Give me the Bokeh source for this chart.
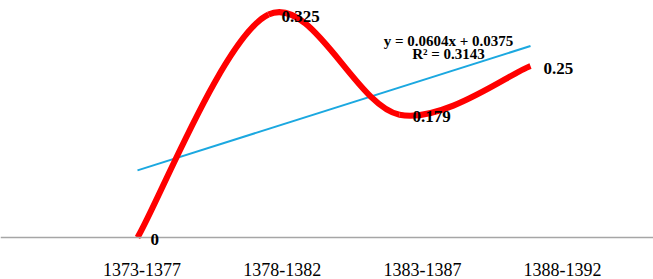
import numpy as np
from bokeh.plotting import figure
from bokeh.models import Range1d, LinearAxis, FixedTicker, ColumnDataSource, Label, LabelSet, Span
from bokeh.embed import file_html
from bokeh.resources import INLINE

categories = ["1373-1377", "1378-1382", "1383-1387", "1388-1392"]
values = [0, 0.325, 0.179, 0.25]
value_labels = ["0", "0.325", "0.179", "0.25"]
trend_lines = ["y = 0.0604x + 0.0375", "R\u00b2 = 0.3143"]

x = np.arange(1, len(values) + 1, dtype=float)
y = np.array(values, dtype=float)

FW, FH = 653, 250
BASE = 237      # baseline pixel row from top
xs_px = 131.0   # px per category on the plotting scale
ys_px = 686.0   # px per unit on the y scale
x0 = 1 - 137 / xs_px

p = figure(frame_width=FW, frame_height=FH,
           x_range=Range1d(x0, x0 + FW / xs_px),
           y_range=Range1d(-(FH - BASE) / ys_px, BASE / ys_px),
           x_axis_location=None, y_axis_location=None,
           output_backend="svg", toolbar_location=None,
           min_border=0, outline_line_color=None)
p.grid.visible = False
p.background_fill_color = "white"

# category axis on its own scale
cs_px = 140.2
c0 = 1 - 141.5 / cs_px
p.extra_x_ranges = {"cat": Range1d(c0, c0 + FW / cs_px)}
axis = LinearAxis(x_range_name="cat",
                  ticker=FixedTicker(ticks=list(range(1, len(categories) + 1))),
                  major_label_overrides={i + 1: c for i, c in enumerate(categories)},
                  axis_line_color=None,
                  major_tick_line_color=None, minor_tick_line_color=None,
                  major_label_text_font="Liberation Serif",
                  major_label_text_font_size="18px",
                  major_label_text_color="black",
                  major_label_standoff=6)
p.add_layout(axis, "below")

p.add_layout(Span(location=0, dimension="width", line_color="#A6A6A6", line_width=1.5))

# linear trend line
coef = np.polyfit(x, y, 1)
tx = np.array([x[0], x[-1]])
p.line(tx, np.polyval(coef, tx), line_color="#1BA8E0", line_width=2)

# smoothed series line (Bezier segments built from data points)
xp = np.concatenate([[x[0]], x, [x[-1]]])
yp = np.concatenate([[y[0]], y, [y[-1]]])
n = len(x)
src = ColumnDataSource(dict(
    x0=x[:-1], y0=y[:-1], x1=x[1:], y1=y[1:],
    cx0=x[:-1] + (xp[2:n + 1] - xp[0:n - 1]) / 6,
    cy0=y[:-1] + (yp[2:n + 1] - yp[0:n - 1]) / 6,
    cx1=x[1:] - (xp[3:n + 2] - xp[1:n]) / 6,
    cy1=y[1:] - (yp[3:n + 2] - yp[1:n]) / 6,
))
p.bezier(x0="x0", y0="y0", x1="x1", y1="y1", cx0="cx0", cy0="cy0",
         cx1="cx1", cy1="cy1", source=src, line_color="#FF0000",
         line_width=6, line_cap="butt")

lab_src = ColumnDataSource(dict(x=x, y=y, t=value_labels))
p.add_layout(LabelSet(x="x", y="y", text="t", source=lab_src,
                      x_offset=13, y_offset=-2,
                      text_align="left", text_baseline="middle",
                      text_font="Liberation Serif", text_font_style="bold",
                      text_font_size="17px", text_color="black"))

for i, t in enumerate(trend_lines):
    p.add_layout(Label(x=x0 + 448 / xs_px, y=(BASE - 40 - 13 * i) / ys_px,
                       text=t, text_align="center", text_baseline="middle",
                       text_font="Liberation Serif", text_font_style="bold",
                       text_font_size="15px", text_color="black"))

open("out.html", "w").write(file_html(p, INLINE))
